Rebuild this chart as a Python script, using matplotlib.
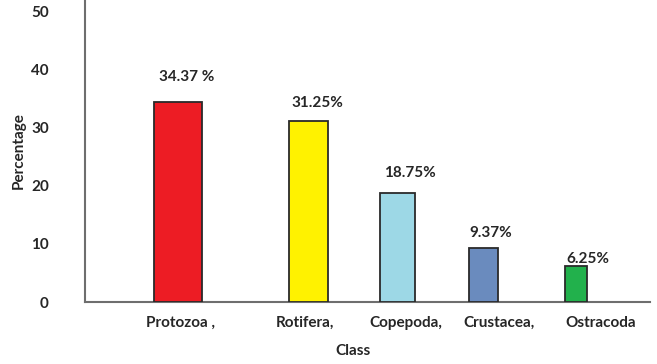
import matplotlib
matplotlib.use("Agg")
import matplotlib.pyplot as plt

categories = ["Protozoa ,", "Rotifera,", "Copepoda,", "Crustacea,", "Ostracoda"]
values = [34.37, 31.25, 18.75, 9.37, 6.25]
value_labels = ["34.37 %", "31.25%", "18.75%", "9.37%", "6.25%"]
y_ticks = [0, 10, 20, 30, 40, 50]

# layout (not data)
bar_pos = [0.0, 1.0, 1.69, 2.35, 3.06]
bar_w = [0.37, 0.30, 0.27, 0.22, 0.17]
lab_pos = [0.02, 0.98, 1.75, 2.47, 3.25]
lab_off = [(9, 25), (9, 18), (12, 20), (7, 15), (12, 7)]
colors = ["#ED1C24", "#FFF200", "#9DD8E6", "#6A8BBE", "#22B14C"]

FS = 11
TXT = dict(fontsize=FS, fontweight="bold", color="#262626")

plt.rcParams['font.family'] = ['Lato', 'DejaVu Sans']
fig = plt.figure(figsize=(6.57, 3.64), dpi=100)
ax = fig.add_axes([85/657, 62/364, (650-85)/657, 302/364])

ax.bar(bar_pos, values, width=bar_w, color=colors, edgecolor="#2a2a2a", linewidth=1.3, zorder=3)
for x, v, lab, off in zip(bar_pos, values, value_labels, lab_off):
    ax.annotate(lab, (x, v), xytext=off, textcoords="offset pixels",
                ha="center", va="center", **TXT)

ax.set_xlim(-0.715, 3.63)
ax.set_ylim(0, 52)
ax.set_yticks(y_ticks)
ax.set_yticklabels([str(t) for t in y_ticks], **TXT)
ax.tick_params(axis="y", length=0, pad=26)
ax.set_xticks(lab_pos)
ax.set_xticklabels(categories, **TXT)
ax.tick_params(axis="x", length=0, pad=10)
ax.set_ylabel("Percentage", labelpad=4, **TXT)
ax.set_xlabel("Class", **TXT)
ax.xaxis.set_label_coords((353-85)/565, -42/302)

for s in ["top", "right"]:
    ax.spines[s].set_visible(False)
for s in ["left", "bottom"]:
    ax.spines[s].set_color("#6e6e6e")
    ax.spines[s].set_linewidth(1.5)

fig.savefig("out.png", dpi=100)
